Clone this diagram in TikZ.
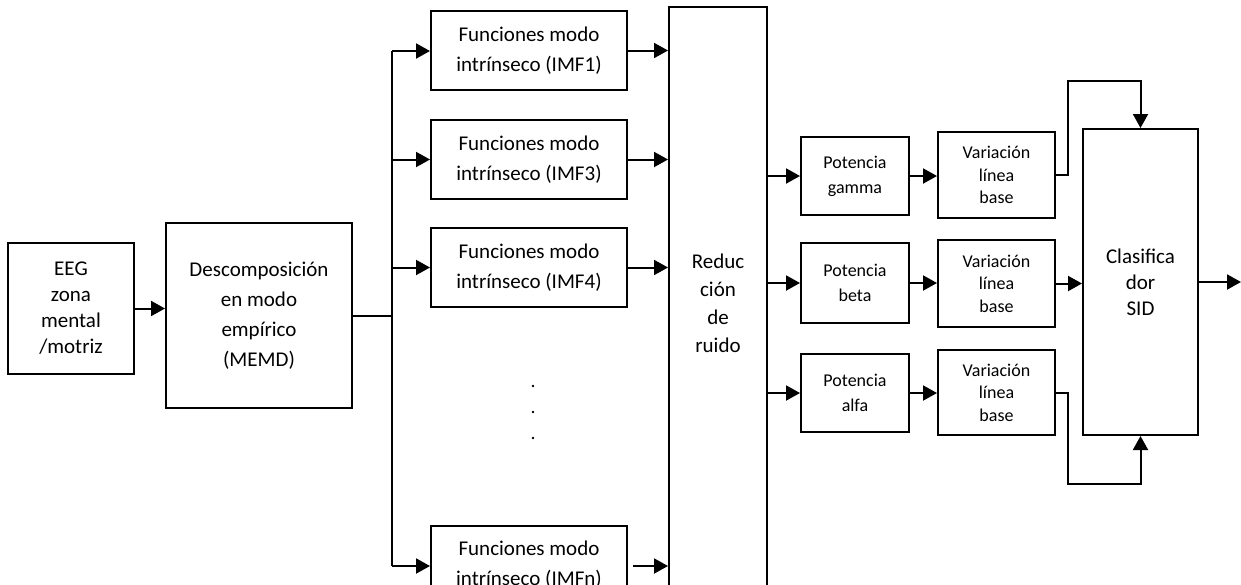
\documentclass[tikz,border=0pt]{standalone}
\usepackage{fontspec}
\setmainfont{Carlito}
\usetikzlibrary{arrows.meta, calc, positioning}

\begin{document}
\begin{tikzpicture}[x=1pt, y=-1pt, >={Triangle[length=14pt,width=15pt]}]
    \tikzstyle{block} = [draw, line width=2pt, align=center, inner sep=0pt,
	font=\fontsize{21}{30}\selectfont]
    \tikzstyle{small} = [block, font=\fontsize{18}{25}\selectfont]
    \tikzstyle{flow} = [->, line width=2pt]

    \useasboundingbox (0,0) rectangle (1241,584);

		\path
			node[block, minimum width=126, minimum height=131,
			  font=\fontsize{21}{26}\selectfont] (eeg) at (71,308.5) {EEG\\zona\\mental\\/motriz}
			node[block, minimum width=186, minimum height=185] (memd) at (259,315.5)
			  {Descomposición\\en modo\\empírico\\(MEMD)}
			node[block, minimum width=196, minimum height=79] (imf1) at (529,50.5)
			  {Funciones modo\\intrínseco (IMF1)}
			node[block, minimum width=196, minimum height=79] (imf3) at (529,159.5)
			  {Funciones modo\\intrínseco (IMF3)}
			node[block, minimum width=196, minimum height=79] (imf4) at (529,267.5)
			  {Funciones modo\\intrínseco (IMF4)}
			node[block, minimum width=196, minimum height=79] (imfn) at (529,565)
			  {Funciones modo\\intrínseco (IMFn)}
			node[block, minimum width=98, minimum height=592,
			  font=\fontsize{21}{28}\selectfont] (red) at (718,303) {Reduc\\ción\\de\\ruido}
			node[small, minimum width=108, minimum height=78] (potg) at (855,176) {Potencia\\gamma}
			node[small, minimum width=108, minimum height=80] (potb) at (855,283) {Potencia\\beta}
			node[small, minimum width=108, minimum height=78] (pota) at (855,393) {Potencia\\alfa}
			node[small, minimum width=117, minimum height=86,
			  font=\fontsize{18}{22.5}\selectfont] (varg) at (996.5,175) {Variación\\línea\\base}
			node[small, minimum width=117, minimum height=87,
			  font=\fontsize{18}{22.5}\selectfont] (varb) at (996.5,283.5) {Variación\\línea\\base}
			node[small, minimum width=117, minimum height=85,
			  font=\fontsize{18}{22.5}\selectfont] (vara) at (996.5,392.5) {Variación\\línea\\base}
			node[block, minimum width=115, minimum height=306,
			  font=\fontsize{21}{26}\selectfont] (clas) at (1140.5,282) {Clasifica\\dor\\SID}
		;

		% puntos entre IMF4 y IMFn
		\foreach \i/\y in {1/386, 2/412, 3/438}
			\node[circle, fill, inner sep=0pt, minimum size=2.6pt] (dot\i) at (533,\y) {};

		\coordinate (bus1) at (392,51);
		\coordinate (busn) at (392,566);
		\coordinate (topc) at (1068,81);
		\coordinate (botc) at (1068,484);
		\coordinate (out) at (1241,282);

		\draw[flow] (eeg.east) -- (eeg.east -| memd.west);
		\draw[line width=2pt] (memd.east) -- (memd.east -| bus1);
		\draw[line width=2pt] (bus1) -- (busn);
		\draw[flow] (bus1) -- (imf1.west |- bus1);
		\draw[flow] (bus1 |- imf3.west) -- (imf3.west);
		\draw[flow] (bus1 |- imf4.west) -- (imf4.west);
		\draw[flow] (busn) -- (imfn.west |- busn);

		\draw[flow] (imf1.east) -- (imf1.east -| red.west);
		\draw[flow] (imf3.east) -- (imf3.east -| red.west);
		\draw[flow] (imf4.east) -- (imf4.east -| red.west);
		\draw[flow] ($(imfn.east |- busn)+(5,0)$) -- (red.west |- busn);

		\draw[flow] (red.east |- potg.west) -- (potg.west);
		\draw[flow] (red.east |- potb.west) -- (potb.west);
		\draw[flow] (red.east |- pota.west) -- (pota.west);

		\draw[flow] (potg.east) -- (potg.east -| varg.west);
		\draw[flow] (potb.east) -- (potb.east -| varb.west);
		\draw[flow] (pota.east) -- (pota.east -| vara.west);

		\draw[flow] (varg.east) -| (topc) -| (clas.north);
		\draw[flow] (varb.east) -- (varb.east -| clas.west);
		\draw[flow] (vara.east) -| (botc) -| (clas.south);
		\draw[flow] (clas.east) -- (out);

\end{tikzpicture}
\end{document}
